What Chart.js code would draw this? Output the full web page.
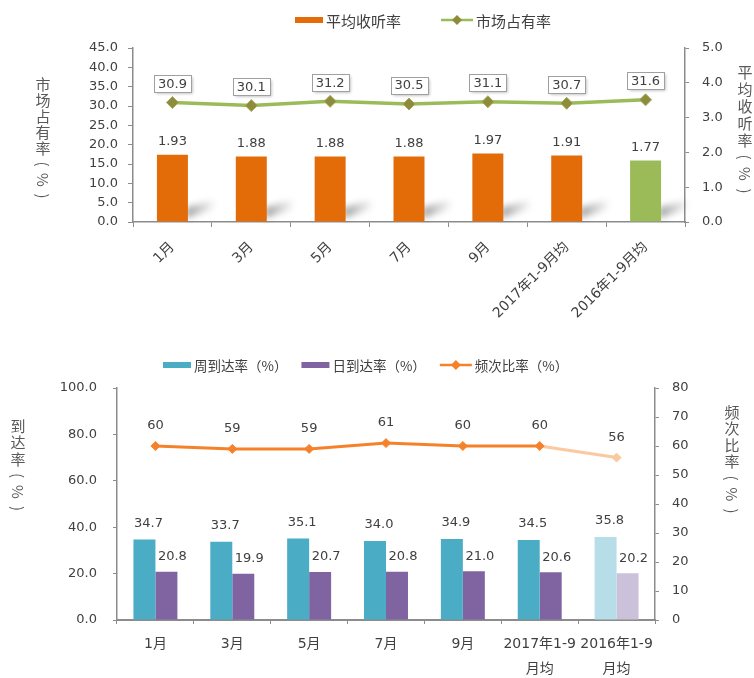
<!DOCTYPE html>
<html>
<head>
<meta charset="utf-8">
<script src="https://cdn.jsdelivr.net/npm/chart.js@4.4.1/dist/chart.umd.min.js"></script>
<style>
  html, body { margin: 0; padding: 0; background: #fff; }
  #wrap { position: relative; width: 754px; height: 678px; overflow: hidden; }
  #topBox { position: absolute; left: 0; top: 0; width: 754px; height: 335px; }
  #bottomBox { position: absolute; left: 0; top: 335px; width: 754px; height: 343px; }
</style>
</head>
<body>
<div id="wrap">
  <div id="topBox"><canvas id="topChart"></canvas></div>
  <div id="bottomBox"><canvas id="bottomChart"></canvas></div>
</div>
<script>
// ---- data ----
const topCategories = ['1月', '3月', '5月', '7月', '9月', '2017年1-9月均', '2016年1-9月均'];
const avgRating = [1.93, 1.88, 1.88, 1.88, 1.97, 1.91, 1.77];        // 平均收听率 (right axis)
const marketShare = [30.9, 30.1, 31.2, 30.5, 31.1, 30.7, 31.6];     // 市场占有率 (left axis)
const shareTicks = [0, 5, 10, 15, 20, 25, 30, 35, 40, 45];
const ratingTicks = [0, 1, 2, 3, 4, 5];

const bottomCategories = ['1月', '3月', '5月', '7月', '9月', ['2017年1-9', '月均'], ['2016年1-9', '月均']];
const weeklyReach = [34.7, 33.7, 35.1, 34.0, 34.9, 34.5, 35.8];     // 周到达率
const dailyReach = [20.8, 19.9, 20.7, 20.8, 21.0, 20.6, 20.2];      // 日到达率
const frequency = [60, 59, 59, 61, 60, 60, 56];                      // 频次比率
const reachTicks = [0, 20, 40, 60, 80, 100];
const freqTicks = [0, 10, 20, 30, 40, 50, 60, 70, 80];

// ---- styles ----
const NUM_FONT = '"DejaVu Sans", "Noto Sans CJK SC", sans-serif';
const CJK_FONT = '"Noto Sans CJK SC", sans-serif';
const textGray = '#404040';
const axisGray = '#8c8c8c';
const orange = '#E36C09', green = '#9BBB59', olive = '#8c8c3a';
const teal = '#4BACC6', purple = '#8064A2', tealLight = '#B7DEE8', purpleLight = '#CCC1DA';
const lineOrange = '#F5822A', lineOrangeLight = '#FBC9A0';

Chart.defaults.font.family = NUM_FONT;
Chart.defaults.animation = false;

const range = t => ({ min: t[0], max: t[t.length - 1], ticks: { stepSize: t[1] - t[0] } });

// value labels above bars / points
const valueLabels = {
  id: 'valueLabels',
  afterDatasetsDraw(chart, args, opts) {
    const ctx = chart.ctx;
    chart.data.datasets.forEach((ds, di) => {
      const cfg = opts.sets && opts.sets[di];
      if (!cfg) return;
      chart.getDatasetMeta(di).data.forEach((el, i) => {
        const text = ds.data[i].toFixed(cfg.digits);
        const x = el.x + (cfg.dx || 0), y = el.y - cfg.dy;
        ctx.save();
        ctx.font = '13px ' + NUM_FONT;
        ctx.textAlign = 'center';
        ctx.textBaseline = 'middle';
        if (cfg.boxed) {
          const w = Math.round(ctx.measureText(text).width + 8), h = 17;
          const bx = Math.round(x - w / 2) + 0.5, by = Math.round(y - h / 2) + 0.5;
          ctx.shadowColor = 'rgba(0,0,0,0.3)';
          ctx.shadowBlur = 3; ctx.shadowOffsetX = 1; ctx.shadowOffsetY = 1;
          ctx.fillStyle = '#fff';
          ctx.fillRect(bx, by, w, h);
          ctx.shadowColor = 'transparent';
          ctx.strokeStyle = '#a0a0a0';
          ctx.lineWidth = 1;
          ctx.strokeRect(bx, by, w, h);
        }
        ctx.fillStyle = textGray;
        ctx.fillText(text, x, y + 1);
        ctx.restore();
      });
    });
  }
};

// soft slanted shadow behind the bars (top chart)
const barShadow = {
  id: 'barShadow',
  beforeDatasetsDraw(chart, args, opts) {
    if (!opts.enabled) return;
    const ctx = chart.ctx;
    chart.data.datasets.forEach((ds, di) => {
      if (ds.type !== 'bar') return;
      chart.getDatasetMeta(di).data.forEach(el => {
        const r = el.x + el.width / 2, b = el.base;
        ctx.save();
        ctx.filter = 'blur(3px)';
        const g = ctx.createLinearGradient(r, 0, r + 28, 0);
        g.addColorStop(0, 'rgba(0,0,0,0.35)');
        g.addColorStop(1, 'rgba(0,0,0,0)');
        ctx.fillStyle = g;
        ctx.beginPath();
        ctx.moveTo(r - 2, b - 3);
        ctx.lineTo(r - 2, b - 14);
        ctx.lineTo(r + 26, b - 22);
        ctx.lineTo(r + 30, b - 14);
        ctx.closePath();
        ctx.fill();
        ctx.restore();
      });
    });
  }
};

// legend row drawn from dataset labels
const rowLegend = {
  id: 'rowLegend',
  afterDraw(chart, args, opts) {
    const ctx = chart.ctx;
    ctx.save();
    ctx.font = opts.fontSize + 'px ' + CJK_FONT;
    ctx.textBaseline = 'middle';
    let x = opts.x;
    const y = opts.y;
    chart.data.datasets.forEach((ds, i) => {
      const it = opts.items[i];
      if (it.kind === 'box') {
        ctx.fillStyle = it.color;
        ctx.fillRect(x, y - 3, 28, 6);
        x += 28;
      } else {
        ctx.strokeStyle = it.color;
        ctx.lineWidth = 2.5;
        ctx.beginPath(); ctx.moveTo(x, y); ctx.lineTo(x + 32, y); ctx.stroke();
        ctx.fillStyle = it.marker;
        ctx.beginPath();
        ctx.moveTo(x + 16, y - 5); ctx.lineTo(x + 21, y); ctx.lineTo(x + 16, y + 5); ctx.lineTo(x + 11, y);
        ctx.closePath(); ctx.fill();
        x += 32;
      }
      x += 3;
      ctx.fillStyle = '#404040';
      ctx.fillText(ds.label, x, y + 1);
      x += ctx.measureText(ds.label).width + opts.gap;
    });
    ctx.restore();
  }
};

// stacked vertical axis titles
const verticalTitles = {
  id: 'verticalTitles',
  afterDraw(chart, args, opts) {
    const ctx = chart.ctx;
    ctx.save();
    ctx.font = '15px ' + CJK_FONT;
    ctx.fillStyle = '#595959';
    ctx.textAlign = 'center';
    ctx.textBaseline = 'middle';
    opts.titles.forEach(t => {
      Array.from(t.text).forEach((ch, i) => {
        const cy = t.y + i * t.step;
        if ('()%'.includes(ch)) {
          ctx.save();
          ctx.translate(t.x, cy);
          ctx.rotate(Math.PI / 2);
          ctx.fillText(ch, 0, 0);
          ctx.restore();
        } else {
          ctx.fillText(ch, t.x, cy);
        }
      });
    });
    ctx.restore();
  }
};

const tickFont = { family: NUM_FONT, size: 13 };
const axisGrid = { drawOnChartArea: false, tickLength: 5, color: axisGray };
const axisBorder = { color: axisGray, width: 1.5 };

// ---- top chart ----
new Chart(document.getElementById('topChart'), {
  data: {
    labels: topCategories,
    datasets: [
      {
        type: 'bar',
        label: '平均收听率',
        data: avgRating,
        yAxisID: 'y1',
        order: 1,
        backgroundColor: avgRating.map((_, i) => i === avgRating.length - 1 ? green : orange),
        categoryPercentage: 1,
        barPercentage: 0.393
      },
      {
        type: 'line',
        label: '市场占有率',
        data: marketShare,
        yAxisID: 'y',
        order: 0,
        borderColor: green,
        borderWidth: 3.5,
        tension: 0,
        pointStyle: 'rectRot',
        pointRadius: 6,
        pointBackgroundColor: olive,
        pointBorderColor: '#a8a860',
        pointBorderWidth: 1
      }
    ]
  },
  options: {
    responsive: true,
    maintainAspectRatio: false,
    layout: { padding: { top: 48, left: 0, right: 0, bottom: 0 } },
    plugins: {
      legend: { display: false },
      tooltip: { enabled: false },
      valueLabels: { sets: [{ digits: 2, dy: 14 }, { digits: 1, dy: 19, boxed: true }] },
      barShadow: { enabled: true },
      rowLegend: {
        x: 295, y: 20, fontSize: 15, gap: 40,
        items: [{ kind: 'box', color: orange }, { kind: 'line', color: green, marker: olive }]
      },
      verticalTitles: {
        titles: [
          { text: '市场占有率(%)', x: 43, y: 84, step: 16 },
          { text: '平均收听率(%)', x: 745, y: 72, step: 17 }
        ]
      }
    },
    scales: {
      x: {
        grid: { ...axisGrid, offset: true },
        border: axisBorder,
        ticks: { font: { family: NUM_FONT, size: 14 }, color: textGray, minRotation: 45, maxRotation: 45, autoSkip: false, padding: 12 },
        afterFit(s) { s.height = 113; }
      },
      y: {
        position: 'left',
        min: range(shareTicks).min,
        max: range(shareTicks).max,
        ticks: { stepSize: range(shareTicks).ticks.stepSize, callback: v => v.toFixed(1), font: tickFont, color: textGray, padding: 10 },
        grid: axisGrid,
        border: axisBorder,
        afterFit(s) { s.width = 133; }
      },
      y1: {
        position: 'right',
        min: range(ratingTicks).min,
        max: range(ratingTicks).max,
        ticks: { stepSize: range(ratingTicks).ticks.stepSize, callback: v => v.toFixed(1), font: tickFont, color: textGray, padding: 13 },
        grid: { ...axisGrid, tickLength: 4 },
        border: axisBorder,
        afterFit(s) { s.width = 69; }
      }
    }
  },
  plugins: [barShadow, valueLabels, rowLegend, verticalTitles]
});

// ---- bottom chart ----
const last = weeklyReach.length - 1;
new Chart(document.getElementById('bottomChart'), {
  data: {
    labels: bottomCategories,
    datasets: [
      {
        type: 'bar',
        label: '周到达率（%）',
        data: weeklyReach,
        yAxisID: 'y',
        order: 1,
        backgroundColor: weeklyReach.map((_, i) => i === last ? tealLight : teal),
        categoryPercentage: 0.572,
        barPercentage: 1
      },
      {
        type: 'bar',
        label: '日到达率（%）',
        data: dailyReach,
        yAxisID: 'y',
        order: 1,
        backgroundColor: dailyReach.map((_, i) => i === last ? purpleLight : purple),
        categoryPercentage: 0.572,
        barPercentage: 1
      },
      {
        type: 'line',
        label: '频次比率（%）',
        data: frequency,
        yAxisID: 'y1',
        order: 0,
        borderColor: lineOrange,
        borderWidth: 3,
        tension: 0,
        segment: { borderColor: c => c.p1DataIndex === last ? lineOrangeLight : lineOrange },
        pointStyle: 'rectRot',
        pointRadius: 4.5,
        pointBackgroundColor: frequency.map((_, i) => i === last ? lineOrangeLight : lineOrange),
        pointBorderColor: frequency.map((_, i) => i === last ? lineOrangeLight : lineOrange),
        pointBorderWidth: 1
      }
    ]
  },
  options: {
    responsive: true,
    maintainAspectRatio: false,
    layout: { padding: { top: 53, left: 0, right: 0, bottom: 0 } },
    plugins: {
      legend: { display: false },
      tooltip: { enabled: false },
      valueLabels: { sets: [{ digits: 1, dy: 17, dx: 4 }, { digits: 1, dy: 16, dx: 6 }, { digits: 0, dy: 21 }] },
      rowLegend: {
        x: 163, y: 30, fontSize: 13.5, gap: 14,
        items: [{ kind: 'box', color: teal }, { kind: 'box', color: purple }, { kind: 'line', color: lineOrange, marker: lineOrange }]
      },
      verticalTitles: {
        titles: [
          { text: '到达率(%)', x: 18, y: 91, step: 16.5 },
          { text: '频次比率(%)', x: 732, y: 77, step: 16.5 }
        ]
      }
    },
    scales: {
      x: {
        grid: { ...axisGrid, tickLength: 4, offset: true },
        border: { color: axisGray, width: 2 },
        ticks: { font: { family: NUM_FONT, size: 14, lineHeight: 1.8 }, color: textGray, maxRotation: 0, minRotation: 0, autoSkip: false, padding: 8 },
        afterFit(s) { s.height = 58; }
      },
      y: {
        position: 'left',
        min: range(reachTicks).min,
        max: range(reachTicks).max,
        ticks: { stepSize: range(reachTicks).ticks.stepSize, callback: v => v.toFixed(1), font: tickFont, color: textGray, padding: 16 },
        grid: { ...axisGrid, tickLength: 4 },
        border: axisBorder,
        afterFit(s) { s.width = 117; }
      },
      y1: {
        position: 'right',
        min: range(freqTicks).min,
        max: range(freqTicks).max,
        ticks: { stepSize: range(freqTicks).ticks.stepSize, font: tickFont, color: textGray, padding: 13 },
        grid: { ...axisGrid, tickLength: 4 },
        border: axisBorder,
        afterFit(s) { s.width = 99; }
      }
    }
  },
  plugins: [valueLabels, rowLegend, verticalTitles]
});
</script>
</body>
</html>
